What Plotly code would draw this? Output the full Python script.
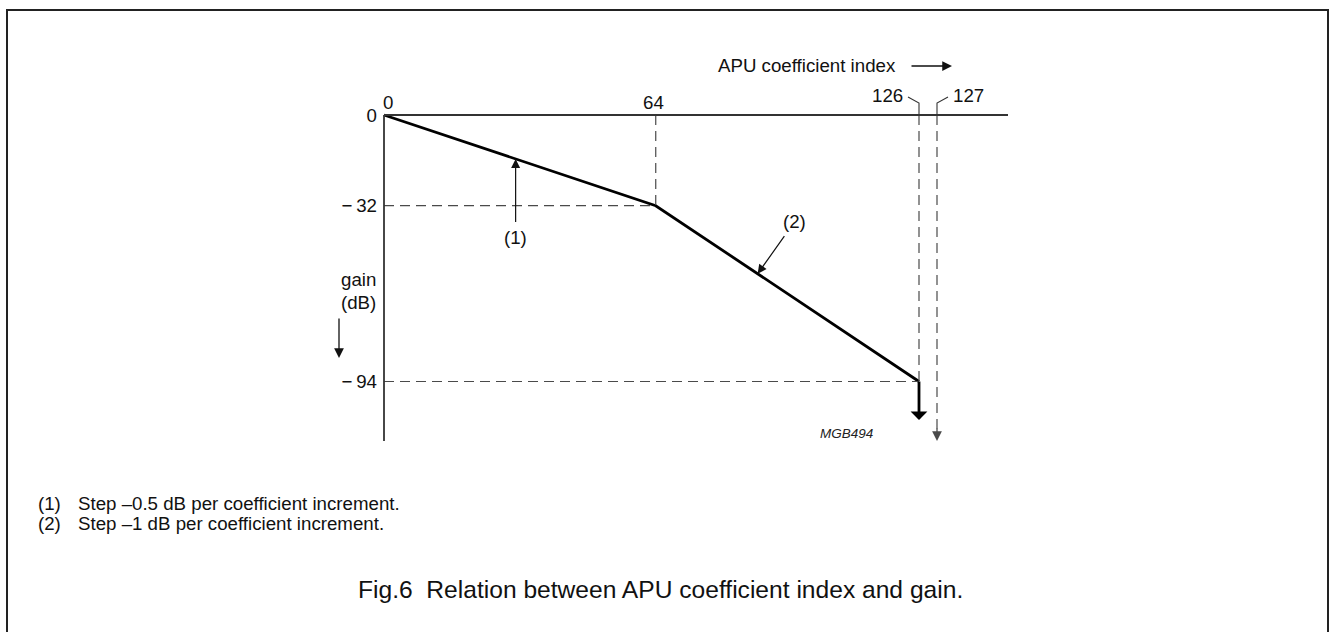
import numpy as np
import plotly.graph_objects as go

# ---------------- data ----------------
index_points = [0, 64, 126]          # APU coefficient index at the break points
gain_points = [0, -32, -94]          # gain (dB) at those indices
mute_index = 127                     # last index (gain -> minus infinity)
x_tick_labels = ["0", "64", "126", "127"]
y_tick_values = [0, -32, -94]
y_tick_labels = ["0", "\u2212\u200932", "\u2212\u200994"]
callout_labels = ["(1)", "(2)"]
callout_index = [31, 88]             # where the callouts point on the curve
note_markers = ["(1)", "(2)"]
note_texts = ["Step \u20130.5 dB per coefficient increment.",
              "Step \u20131 dB per coefficient increment."]
gain_axis_floor = -115               # lower extent of the drawn gain axis
caption = "Fig.6\u00a0\u00a0Relation between APU coefficient index and gain."

# ---------------- geometry / style ----------------
W, H = 1329, 632
OX, OY = 384, 115          # pixel position of (index 0, gain 0)
SX, SY = 4.246, 2.835      # px per index unit, px per dB
BREAK_PX = 928             # axis break between 126 and 127 (schematic spacing)
SX2 = 18.0                 # px per unit in the segment after the break
FONT = "Liberation Sans, Arial, sans-serif"
FS = 18.7
BLACK = "#111111"
AXIS_C = "#333333"
DASH_C = "#4a4a4a"
DASH = "10px,6px"

def px(x):
    return x / W

def py(y):
    return 1 - y / H

break_val = (index_points[-1] + mute_index) / 2

fig = go.Figure()

# main gain curve
fig.add_trace(go.Scatter(x=index_points, y=gain_points, mode="lines",
                         line=dict(color="black", width=2.8),
                         hoverinfo="skip", showlegend=False,
                         xaxis="x", yaxis="y"))

dash_line = dict(color=DASH_C, width=1.2, dash=DASH)
shapes = []
# dashed guides
shapes.append(dict(type="line", xref="x", yref="y", x0=index_points[0], x1=index_points[1],
                   y0=gain_points[1], y1=gain_points[1], line=dash_line))
shapes.append(dict(type="line", xref="x", yref="y", x0=index_points[1], x1=index_points[1],
                   y0=gain_points[0], y1=gain_points[1], line=dash_line))
shapes.append(dict(type="line", xref="x", yref="y", x0=index_points[0], x1=index_points[2],
                   y0=gain_points[2], y1=gain_points[2], line=dash_line))
shapes.append(dict(type="line", xref="x", yref="y", x0=index_points[2], x1=index_points[2],
                   y0=gain_points[0], y1=gain_points[2], line=dash_line))
shapes.append(dict(type="line", xref="x2", yref="y", x0=mute_index, x1=mute_index,
                   y0=gain_points[0], y1=gain_axis_floor + 3, line=dash_line))
# axes lines
shapes.append(dict(type="line", xref="paper", yref="y", x0=px(OX), x1=px(1008),
                   y0=0, y1=0, line=dict(color=AXIS_C, width=1.8)))
shapes.append(dict(type="line", xref="x", yref="y", x0=0, x1=0,
                   y0=0, y1=gain_axis_floor, line=dict(color=AXIS_C, width=1.8)))
# leaders for 126 / 127 labels
shapes.append(dict(type="path", xref="x", yref="y", xsizemode="pixel", ysizemode="pixel",
                   xanchor=index_points[2], yanchor=0, path="M-11,18 L0,12 L0,0",
                   line=dict(color=AXIS_C, width=1.1)))
shapes.append(dict(type="path", xref="x2", yref="y", xsizemode="pixel", ysizemode="pixel",
                   xanchor=mute_index, yanchor=0, path="M11,18 L0,12 L0,0",
                   line=dict(color=AXIS_C, width=1.1)))
# outer frame
shapes.append(dict(type="rect", xref="paper", yref="paper", x0=px(7), x1=px(1328),
                   y0=-0.05, y1=py(10), line=dict(color="#222222", width=2)))

ann = []
tf = dict(family=FONT, size=FS, color=BLACK)
# x labels
ann.append(dict(x=index_points[0], y=0, xref="x", yref="y", text=x_tick_labels[0],
                showarrow=False, xshift=4, yshift=13, font=tf))
ann.append(dict(x=index_points[1], y=0, xref="x", yref="y", text=x_tick_labels[1],
                showarrow=False, xshift=-2, yshift=13, font=tf))
ann.append(dict(x=index_points[2], y=0, xref="x", yref="y", text=x_tick_labels[2],
                showarrow=False, xanchor="right", xshift=-14, yshift=20, font=tf))
ann.append(dict(x=mute_index, y=0, xref="x2", yref="y", text=x_tick_labels[3],
                showarrow=False, xanchor="left", xshift=14, yshift=20, font=tf))
# thick arrow at 126 (to mute)
ann.append(dict(x=index_points[2], y=gain_points[2], xref="x", yref="y", text="",
                showarrow=True, ax=0, ay=40, arrowside="start", arrowhead=2,
                arrowwidth=2.8, arrowsize=0.85, arrowcolor="black", standoff=0, startstandoff=0))
# dashed arrow head at 127
ann.append(dict(x=mute_index, y=gain_axis_floor, xref="x2", yref="y", text="",
                showarrow=True, ax=0, ay=-14, arrowhead=2, arrowwidth=1.3,
                arrowsize=1.5, arrowcolor=DASH_C))
# callouts
c1y = float(np.interp(callout_index[0], index_points, gain_points))
ann.append(dict(x=callout_index[0], y=c1y, xref="x", yref="y", text=callout_labels[0],
                showarrow=True, ax=0, ay=79, arrowhead=2, arrowwidth=1.2, arrowsize=1.5,
                arrowcolor=BLACK, startstandoff=4, font=tf))
c2y = float(np.interp(callout_index[1], index_points, gain_points))
ann.append(dict(x=callout_index[1], y=c2y, xref="x", yref="y", text=callout_labels[1],
                showarrow=True, ax=37, ay=-52, arrowhead=2, arrowwidth=1.2, arrowsize=1.5,
                arrowcolor=BLACK, startstandoff=3, font=tf))
# axis titles
ann.append(dict(x=px(898), y=py(65), xref="paper", yref="paper", text="APU coefficient index",
                showarrow=False, xanchor="right", yanchor="middle", font=tf))
ann.append(dict(x=px(952), y=py(66), xref="paper", yref="paper", text="",
                showarrow=True, ax=-42, ay=0, arrowhead=2, arrowwidth=1.3, arrowsize=1.5,
                arrowcolor=BLACK))
ann.append(dict(x=px(339), y=py(280), xref="paper", yref="paper", text="gain",
                showarrow=False, yanchor="middle", font=tf))
ann.append(dict(x=px(339), y=py(302), xref="paper", yref="paper", text="(dB)",
                showarrow=False, yanchor="middle", font=tf))
ann.append(dict(x=px(339), y=py(358), xref="paper", yref="paper", text="",
                showarrow=True, ax=0, ay=-41, arrowhead=2, arrowwidth=1.3, arrowsize=1.5,
                arrowcolor=BLACK))
# figure code
ann.append(dict(x=px(846), y=py(433), xref="paper", yref="paper", text="<i>MGB494</i>",
                showarrow=False, yanchor="middle", font=dict(family=FONT, size=13.5, color="#222")))
# notes
for i, (m, t) in enumerate(zip(note_markers, note_texts)):
    yy = 503 + 20 * i
    ann.append(dict(x=px(36), y=py(yy), xref="paper", yref="paper", text=m, showarrow=False,
                    xanchor="left", yanchor="middle", font=tf))
    ann.append(dict(x=px(76), y=py(yy), xref="paper", yref="paper", text=t, showarrow=False,
                    xanchor="left", yanchor="middle", font=tf))
# caption
ann.append(dict(x=px(660), y=py(589), xref="paper", yref="paper", text=caption,
                showarrow=False, xanchor="center", yanchor="middle",
                font=dict(family=FONT, size=24.6, color=BLACK)))

fig.update_layout(
    width=W, height=H,
    margin=dict(l=0, r=0, t=0, b=0),
    paper_bgcolor="white", plot_bgcolor="white",
    showlegend=False,
    xaxis=dict(domain=[0, BREAK_PX / W], range=[-OX / SX, (BREAK_PX - OX) / SX],
               visible=False, fixedrange=True),
    xaxis2=dict(domain=[BREAK_PX / W, 1], range=[break_val, break_val + (W - BREAK_PX) / SX2],
                anchor="y", visible=False, fixedrange=True),
    yaxis=dict(domain=[0, 1], range=[-(H - OY) / SY, OY / SY], anchor="free", position=px(OX),
               tickvals=y_tick_values, ticktext=y_tick_labels, ticks="", showline=False,
               showgrid=False, zeroline=False, ticklabelstandoff=7,
               tickfont=tf, fixedrange=True),
    shapes=shapes,
    annotations=ann,
)

fig.write_html("out.html", post_script="document.body.style.margin='0';",
               config={"displayModeBar": False})
